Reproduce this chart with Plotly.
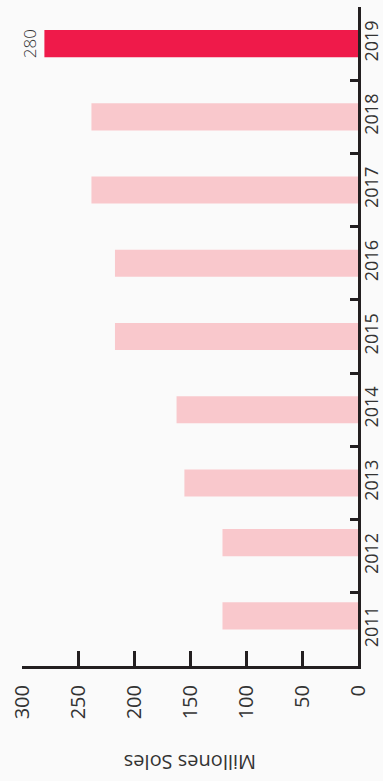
import plotly.graph_objects as go

# Annual figures, in millions of soles
years = ["2011", "2012", "2013", "2014", "2015", "2016", "2017", "2018", "2019"]
values = [121, 121, 155, 162, 217, 217, 238, 238, 280]
highlight_year = "2019"
value_ticks = [0, 50, 100, 150, 200, 250, 300]

INK = "#231f20"
TEXT = "#333333"
PINK = "#f9c8cc"
RED = "#ef1a4a"
BG = "#fafafa"

colors = [RED if y == highlight_year else PINK for y in years]
labels = [str(v) if y == highlight_year else "" for y, v in zip(years, values)]
bar_w = 0.37
# the two earliest bars sit a little higher in their slots
offsets = [0.0 if y in ("2011", "2012") else -bar_w / 2 for y in years]

fig = go.Figure(
    go.Bar(
        y=years,
        x=values,
        orientation="h",
        marker=dict(color=colors, line=dict(width=0)),
        width=bar_w,
        offset=offsets,
        text=labels,
        textposition="outside",
        textangle=-90,
        constraintext="none",
        cliponaxis=False,
        textfont=dict(family="Open Sans", size=17, color=TEXT, weight=300),
        hoverinfo="skip",
    )
)

fig.update_layout(
    width=383,
    height=781,
    margin=dict(l=22, r=25, t=7, b=115, autoexpand=False),
    paper_bgcolor=BG,
    plot_bgcolor=BG,
    showlegend=False,
    xaxis=dict(
        automargin=False,
        range=[300, 0],
        tickvals=value_ticks,
        ticktext=[str(t) for t in value_ticks],
        tickangle=-90,
        ticks="inside",
        ticklen=15,
        tickwidth=3,
        tickcolor=INK,
        showline=True,
        linewidth=3,
        linecolor=INK,
        showgrid=False,
        zeroline=False,
        ticklabelstandoff=8,
        tickfont=dict(family="Open Sans", size=20, color=TEXT),
        fixedrange=True,
    ),
    yaxis=dict(
        automargin=False,
        type="category",
        categoryorder="array",
        categoryarray=years,
        side="right",
        tickangle=-90,
        ticks="inside",
        tickson="boundaries",
        ticklen=8,
        tickwidth=3,
        tickcolor=INK,
        showline=True,
        linewidth=3,
        linecolor=INK,
        showgrid=False,
        zeroline=False,
        ticklabelstandoff=-5,
        tickfont=dict(family="Open Sans", size=18, color=TEXT),
        fixedrange=True,
    ),
    annotations=[
        dict(
            text="Millones Soles",
            xref="paper",
            yref="paper",
            x=0.5,
            y=0,
            xanchor="center",
            yanchor="middle",
            yshift=-97,
            textangle=180,
            showarrow=False,
            font=dict(family="Open Sans", size=20, color=TEXT),
        )
    ],
)

fig.write_html("out.html", config={"displayModeBar": False})
